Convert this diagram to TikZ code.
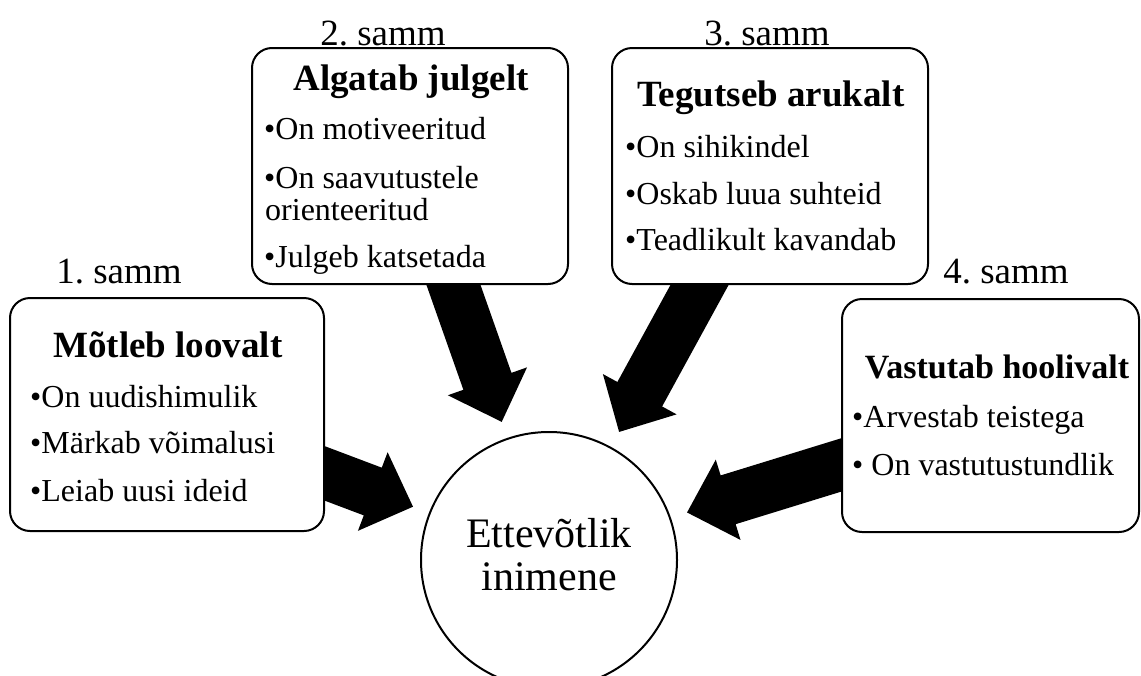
\documentclass[tikz,border=0pt]{standalone}
\usepackage{fontspec}
\setmainfont{Liberation Serif}
\usetikzlibrary{calc}
\pgfdeclarelayer{bg}
\pgfsetlayers{bg,main}
\frenchspacing
\newcommand\blockarr[2]{%
  \fill let \p1=($(#2)-(#1)$), \n1={atan2(\y1,\x1)}, \n2={veclen(\x1,\y1)} in
    [shift={(#1)}, rotate=\n1]
    (-15,-25.5) -- ({\n2-43},-25.5) -- ({\n2-43},-42) -- (\n2,0) --
    ({\n2-43},42) -- ({\n2-43},25.5) -- (-15,25.5) -- cycle;}
\tikzset{
  box/.style={draw, line width=2pt, rounded corners=20pt, fill=white, inner sep=0pt},
  samm/.style={anchor=base, inner sep=0pt, font=\fontsize{37}{37}\selectfont},
  ttl/.style={anchor=base, inner sep=0pt, font=\fontsize{37}{37}\selectfont\bfseries},
  bul/.style={anchor=base west, inner sep=0pt, font=\fontsize{32}{32}\selectfont},
  ctr/.style={anchor=base, inner sep=0pt, font=\fontsize{42}{42}\selectfont},
  hub/.style={draw, line width=2pt, circle, minimum size=256pt, inner sep=0pt, fill=white}
}
\begin{document}
\begin{tikzpicture}[x=1pt,y=1pt]
\useasboundingbox (0,0) rectangle (1141,-675);
% boxes
\node[box, minimum width=314pt, minimum height=233pt] (b1) at (167,-414.5) {};
\node[box, minimum width=316pt, minimum height=236pt] (b2) at (410,-166) {};
\node[box, minimum width=316pt, minimum height=236pt] (b3) at (770,-166) {};
\node[box, minimum width=297pt, minimum height=233pt] (b4) at (990.5,-415.5) {};
\node[hub] (c) at (549,-560) {};
% step labels
\node[samm] (s1) at (119,-283) {1. samm};
\node[samm] (s2) at (383,-45) {2. samm};
\node[samm] (s3) at (767,-45) {3. samm};
\node[samm] (s4) at (1006,-283) {4. samm};
% titles
\node[ttl] (t1) at (168,-357) {Mõtleb loovalt};
\node[ttl] (t2) at (411,-90) {Algatab julgelt};
\node[ttl] (t3) at (771,-106) {Tegutseb arukalt};
\node[ttl, font=\fontsize{34}{34}\selectfont\bfseries] (t4) at (997,-378) {Vastutab hoolivalt};
% bullets
\node[bul] (p11) at (30,-407) {•On uudishimulik};
\node[bul] (p12) at (30,-453) {•Märkab võimalusi};
\node[bul] (p13) at (30,-501) {•Leiab uusi ideid};
\node[bul] (p21) at (264,-139) {•On motiveeritud};
\node[bul] (p22) at (264,-188) {•On saavutustele};
\node[bul] (p22b) at (265,-220) {orienteeritud};
\node[bul] (p23) at (264,-267) {•Julgeb katsetada};
\node[bul] (p31) at (625,-157) {•On sihikindel};
\node[bul] (p32) at (625,-204) {•Oskab luua suhteid};
\node[bul] (p33) at (625,-250) {•Teadlikult kavandab};
\node[bul] (p41) at (852,-427) {•Arvestab teistega};
\node[bul] (p42) at (852,-475) {• On vastutustundlik};
% centre text
\node[ctr] (c1) at (549,-547) {Ettevõtlik};
\node[ctr] (c2) at (549,-590) {inimene};
% arrow anchors
\coordinate (a1s) at ($(b1.east)+(0,-59)$);
\coordinate (a1t) at ($(c.center)+(158.6:146)$);
\coordinate (a2s) at ($(b2.south)+(43.5,0)$);
\coordinate (a2t) at ($(c.center)+(108.9:146)$);
\coordinate (a3s) at ($(b3.south)+(-70.5,0)$);
\coordinate (a3t) at ($(c.center)+(61.3:146)$);
\coordinate (a4s) at ($(b4.west)+(0,-49.5)$);
\coordinate (a4t) at ($(c.center)+(19.0:146)$);
\begin{pgfonlayer}{bg}
\blockarr{a1s}{a1t}
\blockarr{a2s}{a2t}
\blockarr{a3s}{a3t}
\blockarr{a4s}{a4t}
\end{pgfonlayer}
\end{tikzpicture}
\end{document}
